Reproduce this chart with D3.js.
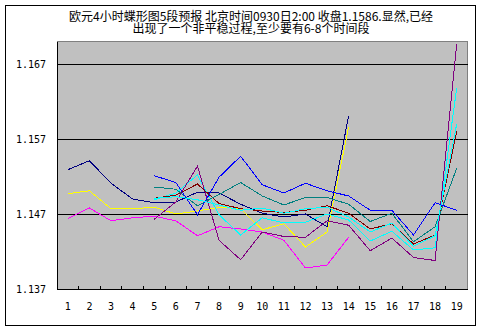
<!DOCTYPE html>
<html>
<head>
<meta charset="utf-8">
<script src="https://cdn.jsdelivr.net/npm/d3@7/dist/d3.min.js"></script>
<style>
  body { margin: 0; background: #fff; }
  svg text { fill: #000; }
</style>
</head>
<body>
<svg id="chart" width="483" height="332"></svg>
<script>
// Time segments along the bottom axis
const categories = [1, 2, 3, 4, 5, 6, 7, 8, 9, 10, 11, 12, 13, 14, 15, 16, 17, 18, 19];
// Price levels labelled on the left axis
const yTicks = [1.137, 1.147, 1.157, 1.167];

const titleLines = [
  "欧元4小时蝶形图5段预报  北京时间0930日2:00  收盘1.1586.显然,已经",
  "出现了一个非平稳过程,至少要有6-8个时间段"
];

// First batch of forecast paths (segments 1-14)
const navyPath    = [1.1529, 1.1541, 1.1511, 1.1490, 1.1485, 1.1486, 1.1499, 1.1498, 1.1483, 1.1471, 1.1466, 1.1470, 1.1453, 1.1601, null, null, null, null, null];
const magentaPath = [1.1464, 1.1478, 1.1461, 1.1465, 1.1467, 1.1461, 1.1441, 1.1453, 1.1450, 1.1446, 1.1435, 1.1398, 1.1402, 1.1439, null, null, null, null, null];
const yellowPath  = [1.1497, 1.1501, 1.1477, 1.1477, 1.1479, 1.1470, 1.1474, 1.1479, 1.1477, 1.1449, 1.1457, 1.1426, 1.1446, 1.1586, null, null, null, null, null];

// Second batch of forecast paths (segments 5-19)
const cyanPathB   = [null, null, null, null, 1.1489, 1.1498, 1.1522, 1.1469, 1.1442, 1.1465, 1.1458, 1.1459, 1.1470, 1.1462, 1.1434, 1.1447, 1.1422, 1.1425, 1.1638];
const purplePath  = [null, null, null, null, 1.1463, 1.1486, 1.1534, 1.1435, 1.1409, 1.1446, 1.1440, 1.1439, 1.1461, 1.1455, 1.1421, 1.1438, 1.1412, 1.1408, 1.1696];
const maroonPath  = [null, null, null, null, 1.1491, 1.1495, 1.1510, 1.1484, 1.1477, 1.1474, 1.1472, 1.1475, 1.1481, 1.1471, 1.1450, 1.1457, 1.1430, 1.1442, 1.1580];
const tealPath    = [null, null, null, null, 1.1506, 1.1503, 1.1481, 1.1496, 1.1512, 1.1494, 1.1482, 1.1492, 1.1492, 1.1483, 1.1460, 1.1471, 1.1433, 1.1453, 1.1531];
const bluePath    = [null, null, null, null, 1.1521, 1.1512, 1.1469, 1.1519, 1.1547, 1.1509, 1.1498, 1.1511, 1.1501, 1.1494, 1.1475, 1.1475, 1.1442, 1.1485, 1.1475];
const cyanPathA   = [null, null, null, null, 1.1491, 1.1493, 1.1489, 1.1482, 1.1475, 1.1478, 1.1471, 1.1477, 1.1479, 1.1466, 1.1446, 1.1458, 1.1427, 1.1441, 1.1590];

const seriesList = [navyPath, magentaPath, yellowPath, cyanPathB, purplePath, maroonPath, tealPath, bluePath, cyanPathA];
const seriesColors = ["#000080", "#FF00FF", "#FFFF00", "#00FFFF", "#800080", "#800000", "#008080", "#0000FF", "#00FFFF"];

const svg = d3.select("#chart");
const plot = { left: 57, right: 467.5, top: 41.5, bottom: 289 };

// Outer chart frame
svg.append("rect")
  .attr("x", 5.5).attr("y", 5.5)
  .attr("width", 470).attr("height", 320)
  .attr("fill", "#fff").attr("stroke", "#000").attr("stroke-width", 1);

// Title: one text block, two centred lines
const title = svg.append("text")
  .attr("text-anchor", "middle")
  .style("font-family", "'Noto Sans CJK SC', 'Noto Sans', sans-serif")
  .style("font-size", "12px");
title.selectAll("tspan").data(titleLines).join("tspan")
  .attr("x", 251)
  .attr("y", (d, i) => 16.5 + i * 12)
  .attr("dy", "0.35em")
  .text(d => d);

const x = d3.scaleBand().domain(categories).range([plot.left, plot.right]).padding(0);
const xc = d => x(d) + x.bandwidth() / 2;
const y = d3.scaleLinear().domain([1.137, 1.170]).range([plot.bottom, plot.top]);

// Plot area background with grey top/right border
svg.append("rect")
  .attr("x", plot.left).attr("y", plot.top)
  .attr("width", plot.right - plot.left).attr("height", plot.bottom - plot.top)
  .attr("fill", "#C0C0C0").attr("stroke", "#808080").attr("stroke-width", 1)
  .attr("shape-rendering", "crispEdges");

// Horizontal gridlines and left-axis labels
const yAxis = d3.axisLeft(y).tickValues(yTicks)
  .tickSize(-(plot.right - plot.left)).tickPadding(11)
  .tickFormat(d3.format(".3f"));
const gy = svg.append("g").attr("transform", `translate(${plot.left},0)`).call(yAxis);
gy.select(".domain").remove();
gy.selectAll(".tick line").attr("stroke", "#000").attr("shape-rendering", "crispEdges");
gy.selectAll(".tick text")
  .style("font-family", "'DejaVu Sans Mono', monospace")
  .style("font-size", "10px");

// Bottom axis with category labels; tick marks sit on band boundaries
const xAxis = d3.axisBottom(x).tickSize(0).tickPadding(0);
const gx = svg.append("g").attr("transform", `translate(0,${plot.bottom})`).call(xAxis);
gx.select(".domain").remove();
gx.selectAll(".tick text")
  .attr("y", 17.5).attr("dy", "0.35em")
  .style("font-family", "'DejaVu Sans Mono', monospace")
  .style("font-size", "10px");

svg.append("g").selectAll("line").data(categories.slice(1)).join("line")
  .attr("x1", d => x(d)).attr("x2", d => x(d))
  .attr("y1", plot.bottom).attr("y2", plot.bottom - 3)
  .attr("stroke", "#000").attr("shape-rendering", "crispEdges");

// Axis lines (left and bottom, black)
svg.append("line")
  .attr("x1", plot.left).attr("x2", plot.left)
  .attr("y1", plot.top).attr("y2", plot.bottom)
  .attr("stroke", "#000").attr("shape-rendering", "crispEdges");
svg.append("line")
  .attr("x1", plot.left).attr("x2", plot.right)
  .attr("y1", plot.bottom).attr("y2", plot.bottom)
  .attr("stroke", "#000").attr("shape-rendering", "crispEdges");

// Forecast paths
const line = d3.line()
  .defined(d => d.v !== null)
  .x(d => xc(d.c))
  .y(d => y(d.v));

svg.append("g").selectAll("path")
  .data(seriesList.map((vals, i) => ({ color: seriesColors[i], pts: vals.map((v, j) => ({ c: categories[j], v })) })))
  .join("path")
  .attr("d", d => line(d.pts))
  .attr("fill", "none")
  .attr("stroke", d => d.color)
  .attr("stroke-width", 1)
  .attr("shape-rendering", "crispEdges");
</script>
</body>
</html>
